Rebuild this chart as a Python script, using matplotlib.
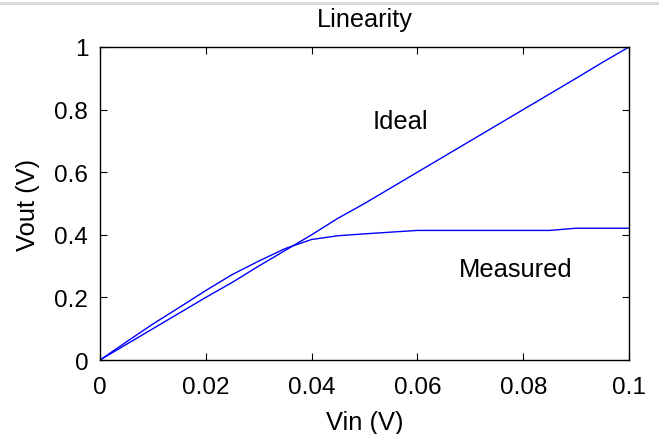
import numpy as np
import matplotlib.pyplot as plt
from matplotlib.patches import Rectangle

# ideal response
vin_ideal = [0, 0.01, 0.02, 0.025, 0.03, 0.035, 0.04, 0.045, 0.05, 0.06, 0.07, 0.08, 0.09, 0.095, 0.1]
vout_ideal = [0, 0.10, 0.20, 0.248, 0.30, 0.35, 0.40, 0.453, 0.50, 0.60, 0.70, 0.80, 0.90, 0.951, 1.0]

# measured response
vin_meas = [0, 0.005, 0.01, 0.015, 0.02, 0.025, 0.03, 0.035, 0.04, 0.045, 0.05, 0.06, 0.085, 0.09, 0.1]
vout_meas = [0, 0.058, 0.115, 0.168, 0.222, 0.273, 0.316, 0.356, 0.385, 0.397, 0.403, 0.414, 0.414, 0.421, 0.421]

xticks = [0, 0.02, 0.04, 0.06, 0.08, 0.1]
xticklabels = ['0', '0.02', '0.04', '0.06', '0.08', '0.1']
yticks = [0, 0.2, 0.4, 0.6, 0.8, 1]
yticklabels = ['0', '0.2', '0.4', '0.6', '0.8', '1']

plt.rcParams['font.family'] = ['Liberation Sans', 'DejaVu Sans']

fig = plt.figure(figsize=(6.59, 4.35), dpi=100)
fig.patches.append(Rectangle((0, 1 - 6/435), 1, 3/435, transform=fig.transFigure,
                             facecolor='#d9d9d9', edgecolor='none'))
ax = fig.add_axes([100/659, 1 - 361/435, 529/659, 313/435])

ax.plot(vin_ideal, vout_ideal, color='#0000ff', lw=1)
ax.plot(vin_meas, vout_meas, color='#0000ff', lw=1)

ax.text(0.0567, 0.763, 'Ideal', fontsize=18.4, ha='center', va='center')
ax.text(0.0785, 0.29, 'Measured', fontsize=18.4, ha='center', va='center')

ax.set_xlim(0, 0.1)
ax.set_ylim(0, 1)
ax.set_xticks(xticks)
ax.set_xticklabels(xticklabels)
ax.set_yticks(yticks)
ax.set_yticklabels(yticklabels)
ax.tick_params(direction='in', length=5, width=0.8, top=True, right=True, labelsize=17.5)
ax.tick_params(axis='x', pad=11.5)
ax.tick_params(axis='y', pad=8.5)
for s in ax.spines.values():
    s.set_linewidth(1)
ax.set_xlabel('Vin (V)', fontsize=18.4, labelpad=9)
ax.set_ylabel('Vout (V)', fontsize=18.4, labelpad=10)
ax.set_title('Linearity', fontsize=18.2, pad=15)

fig.savefig('out.png', dpi=100)
